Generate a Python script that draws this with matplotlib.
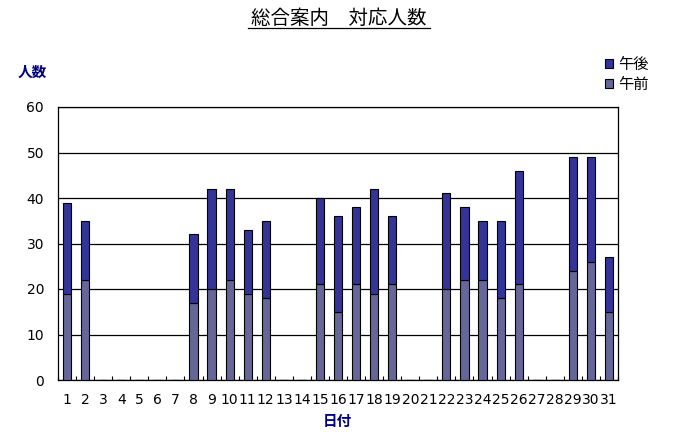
import matplotlib
matplotlib.use('Agg')
import matplotlib.pyplot as plt
import numpy as np

plt.rcParams['font.family'] = ['Noto Sans CJK JP', 'DejaVu Sans']

days = [str(d) for d in range(1, 32)]
gozen = [19, 22, 0, 0, 0, 0, 0, 17, 20, 22, 19, 18, 0, 0, 21, 15, 21, 19, 21, 0,
         0, 20, 22, 22, 18, 21, 0, 0, 24, 26, 15]
total = [39, 35, 0, 0, 0, 0, 0, 32, 42, 42, 33, 35, 0, 0, 40, 36, 38, 42, 36, 0,
         0, 41, 38, 35, 35, 46, 0, 0, 49, 49, 27]
gogo = [t - m for t, m in zip(total, gozen)]

navy = '#000080'
col_am = '#666699'
col_pm = '#333399'

fig = plt.figure(figsize=(6.74, 4.37), dpi=100)
ax = fig.add_axes([58/674, 1 - 380/437, 560/674, 273/437])

x = np.arange(len(days))
ax.bar(x, gozen, width=0.45, color=col_am, edgecolor='black', linewidth=0.8, label='午前', zorder=3)
ax.bar(x, gogo, bottom=gozen, width=0.45, color=col_pm, edgecolor='black', linewidth=0.8, label='午後', zorder=3)

ax.set_xlim(-0.5, len(days) - 0.5)
ax.set_ylim(0, 60)
ax.set_yticks(range(0, 61, 10))
ax.yaxis.grid(True, color='black', linewidth=0.9, zorder=0)
ax.tick_params(axis='y', length=0, pad=10)
ax.set_xticks(x)
ax.set_xticklabels(days)
ax.tick_params(axis='x', length=0, pad=9)
for lab in ax.get_xticklabels() + ax.get_yticklabels():
    lab.set_family('DejaVu Sans')
    lab.set_fontsize(10)
ax.set_xticks(np.arange(-0.5, len(days), 1), minor=True)
ax.tick_params(axis='x', which='minor', direction='in', length=3, width=0.8)
for s in ax.spines.values():
    s.set_color('black')
    s.set_linewidth(0.9)

fig.text(339/674, 1 - 18/437, '総合案内　対応人数', ha='center', va='center', fontsize=14)
fig.add_artist(plt.Line2D([248/674, 430/674], [1 - 28/437, 1 - 28/437], color='black', linewidth=0.9))

fig.text(32/674, 1 - 72/437, '人数', ha='center', va='center', fontsize=10.5, color=navy, fontweight='bold')
fig.text(337/674, 1 - 421/437, '日付', ha='center', va='center', fontsize=10.5, color=navy, fontweight='bold')

h, l = ax.get_legend_handles_labels()
fig.legend(h[::-1], l[::-1], loc='upper left', bbox_to_anchor=(597/674, 1 - 48/437), frameon=False,
           fontsize=11, handlelength=0.55, handleheight=0.55, handletextpad=0.35, labelspacing=0.2,
           borderpad=0)

fig.savefig('out.png', dpi=100)
